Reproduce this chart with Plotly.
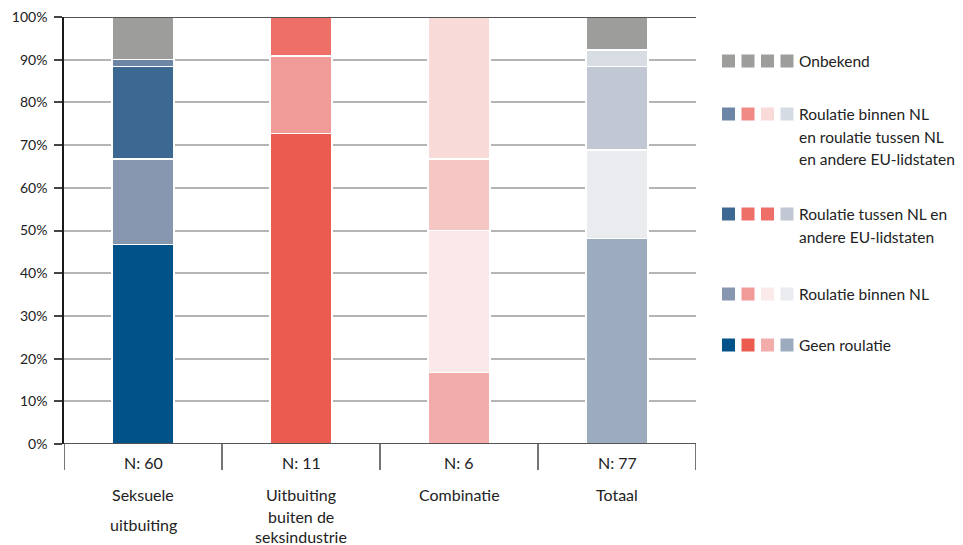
import plotly.graph_objects as go

categories = ["Seksuele<br>uitbuiting", "Uitbuiting<br>buiten de<br>seksindustrie", "Combinatie", "Totaal"]
n_labels = ["N: 60", "N: 11", "N: 6", "N: 77"]
series_names = ["Geen roulatie", "Roulatie binnen NL", "Roulatie tussen NL en andere EU-lidstaten",
                "Roulatie binnen NL en roulatie tussen NL en andere EU-lidstaten", "Onbekend"]

geen = [46.7, 72.7, 16.7, 48.1]
binnen = [20.0, 18.2, 33.3, 20.8]
tussen = [21.7, 9.1, 16.7, 19.5]
beide = [1.6, 0.0, 33.3, 3.9]
onbekend = [10.0, 0.0, 0.0, 7.7]
values = [geen, binnen, tussen, beide, onbekend]

bar_colors = [
    ["#02528A", "#EB5B50", "#F2ADAA", "#9DABBE"],
    ["#8797B0", "#F09B97", "#FAE9E8", "#E9EBEF"],
    ["#3D6891", "#EE6F68", "#F6C6C4", "#C1C7D3"],
    ["#6E86A6", "#EF8A84", "#F8DAD8", "#D8DDE3"],
    ["#9D9D9C", "#9D9D9C", "#9D9D9C", "#9D9D9C"],
]
legend_colors = [
    ["#9D9D9C", "#9D9D9C", "#9D9D9C", "#9D9D9C"],
    ["#6E86A6", "#EF8A84", "#F8DAD8", "#D5DBE2"],
    ["#3D6891", "#EE6F68", "#EE6F68", "#C1C7D3"],
    ["#8797B0", "#F09B97", "#FBEAEA", "#E9EBEF"],
    ["#02528A", "#EB5B50", "#F2ADAB", "#9DABBE"],
]
legend_texts = ["Onbekend",
                "Roulatie binnen NL<br>en roulatie tussen NL<br>en andere EU-lidstaten",
                "Roulatie tussen NL en<br>andere EU-lidstaten",
                "Roulatie binnen NL",
                "Geen roulatie"]

# layout constants (screen pixels in the reference)
legend_y_px = [61, 114, 214, 294, 345]
legend_line_gap = 22.5
cat_line_y_px = [[495, 524], [495, 516, 536], [495], [495]]

FONT = "Lato"
OFF = 8  # default page body margin
W, H = 963 - OFF, 545 - OFF
PL, PR, PT, PB = 64, 696, 17, 444  # plot area in screen px
L, R, T, B = PL - OFF, 963 - PR, PT - OFF, 545 - PB
ph = PB - PT
pw = PR - PL


def py(ypx):
    return (PB - ypx) / ph


def px(xpx):
    return (xpx - PL) / pw


fig = go.Figure()
xs = list(range(len(categories)))
for name, vals, cols in zip(series_names, values, bar_colors):
    fig.add_trace(go.Bar(x=xs, y=vals, name=name, width=0.39,
                         marker=dict(color=cols, line=dict(color="white", width=1.5)),
                         showlegend=False, hoverinfo="y+name"))

shapes = []
shapes.append(dict(type="line", xref="paper", yref="y", x0=0, x1=1, y0=100, y1=100,
                   line=dict(color="#1a1a1a", width=1.5), layer="above"))
shapes.append(dict(type="line", xref="paper", yref="y", x0=0, x1=1, y0=0, y1=0,
                   line=dict(color="#1a1a1a", width=1.5), layer="above"))
for i in range(len(categories) + 1):
    shapes.append(dict(type="line", xref="x", yref="paper", x0=i - 0.5, x1=i - 0.5,
                       y0=0, y1=py(470), line=dict(color="#1a1a1a", width=1.2)))

annotations = []
for i, (cat, nl) in enumerate(zip(categories, n_labels)):
    annotations.append(dict(x=i, y=py(462), xref="x", yref="paper", text=nl, showarrow=False,
                            font=dict(family=FONT, size=16, color="#222"), yanchor="middle"))
    for line, ypx in zip(cat.split("<br>"), cat_line_y_px[i]):
        annotations.append(dict(x=i, y=py(ypx), xref="x", yref="paper", text=line, showarrow=False,
                                font=dict(family=FONT, size=16, color="#222"), yanchor="middle"))

sq = 13
for cols, txt, ypx in zip(legend_colors, legend_texts, legend_y_px):
    for j, c in enumerate(cols):
        x0 = 722 + j * 19.5
        shapes.append(dict(type="rect", xref="paper", yref="paper",
                           x0=px(x0), x1=px(x0 + sq),
                           y0=py(ypx + sq / 2), y1=py(ypx - sq / 2),
                           fillcolor=c, line=dict(width=0)))
    for k, line in enumerate(txt.split("<br>")):
        annotations.append(dict(x=px(797), y=py(ypx + k * legend_line_gap),
                                xref="paper", yref="paper", text=line, showarrow=False,
                                xanchor="left", yanchor="middle", align="left",
                                font=dict(family=FONT, size=15.5, color="#222")))

fig.update_layout(
    width=W, height=H, margin=dict(l=L, r=R, t=T, b=B, autoexpand=False),
    barmode="stack",
    plot_bgcolor="white", paper_bgcolor="white",
    font=dict(family=FONT, size=14, color="#222"),
    xaxis=dict(range=[-0.5, 3.5], showticklabels=False, showgrid=False, zeroline=False,
               showline=False, ticks=""),
    yaxis=dict(range=[0, 100], tickvals=list(range(0, 101, 10)),
               ticktext=[f"{v}%" for v in range(0, 101, 10)],
               ticklabeloverflow="allow", ticklabelstandoff=4,
               showgrid=True, gridcolor="#b4b4b4", gridwidth=1.5,
               showline=True, linecolor="#1a1a1a", linewidth=1.5,
               ticks="outside", ticklen=8, tickcolor="#444", tickwidth=1.5,
               zeroline=False, tickfont=dict(family=FONT, size=14, color="#222")),
    shapes=shapes, annotations=annotations,
)
fig.write_html("out.html")
